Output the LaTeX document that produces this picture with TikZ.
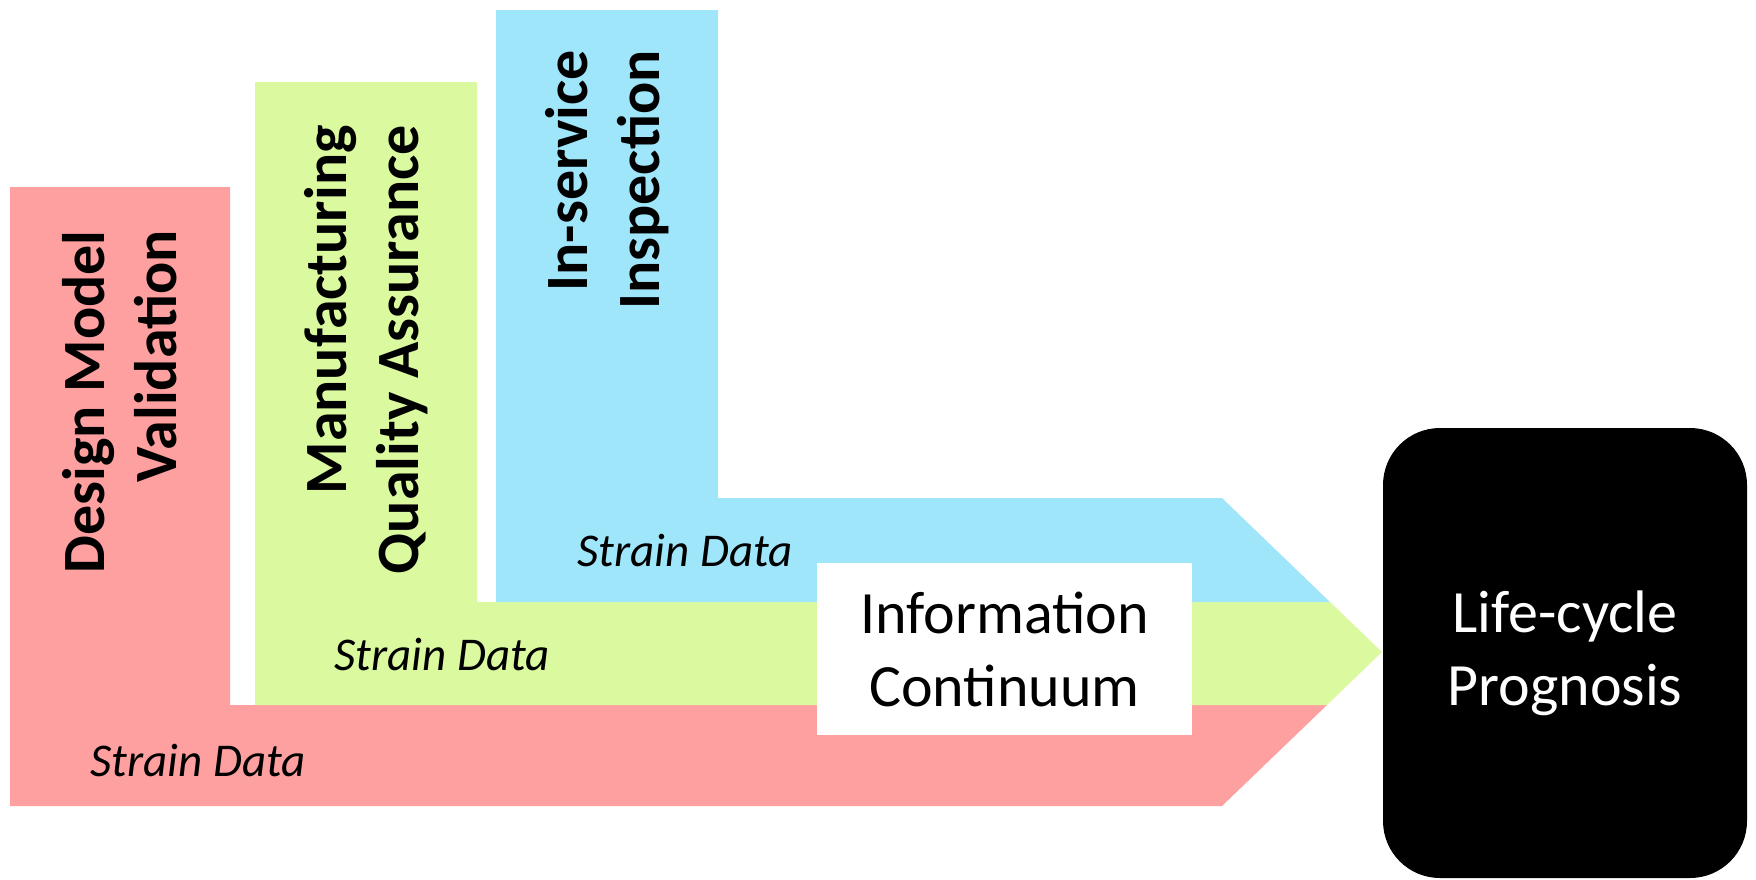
\documentclass[tikz,border=0pt]{standalone}
\usepackage{fontspec}
\setmainfont{Carlito}
\definecolor{bandred}{HTML}{FFA0A0}
\definecolor{bandgreen}{HTML}{DBFAA0}
\definecolor{bandblue}{HTML}{A0E6FA}
\begin{document}
\begin{tikzpicture}[x=0.5pt,y=-0.5pt,
  stagetext/.style={rotate=90, anchor=east, align=right, inner sep=0pt,
    font=\bfseries\fontsize{30}{36}\selectfont},
  flowlabel/.style={anchor=west, inner sep=0pt,
    font=\itshape\fontsize{23.5}{28}\selectfont},
  boxtext/.style={align=center, inner sep=0pt,
    font=\fontsize{30}{36.5}\selectfont}]
\useasboundingbox (0,0) rectangle (1756,879);

% the three bent bands that merge into one arrow head
\fill[bandred] (10,187) -- (230,187) -- (230,705) -- (1327,705)
  -- (1222,806) -- (10,806) -- cycle;
\fill[bandgreen] (255,82) -- (477,82) -- (477,602) -- (1330,602)
  -- (1382,652) -- (1327,705) -- (255,705) -- cycle;
\fill[bandblue] (496,10) -- (718,10) -- (718,498) -- (1222,498)
  -- (1330,602) -- (496,602) -- cycle;

% stage titles in the vertical arms
\node[stagetext] (design) at (120,230) {Design Model\\Validation};
\node[stagetext] (manuf) at (366,125) {Manufacturing\\Quality Assurance};
\node[stagetext] (inserv) at (607,50) {In-service\\Inspection};

% data labels along the horizontal arms
\node[flowlabel] (sd1) at (90,760) {Strain Data};
\node[flowlabel] (sd2) at (334,654) {Strain Data};
\node[flowlabel] (sd3) at (577,550) {Strain Data};

% boxes
\node[boxtext, fill=white, minimum width=187.5pt, minimum height=86pt]
  (info) at (1004.5,649) {Information\\Continuum};
\node[boxtext, fill=black, text=white, rounded corners=28.5pt,
  minimum width=182pt, minimum height=225pt]
  (prog) at (1565,653) {Life-cycle\\Prognosis};
\end{tikzpicture}
\end{document}
